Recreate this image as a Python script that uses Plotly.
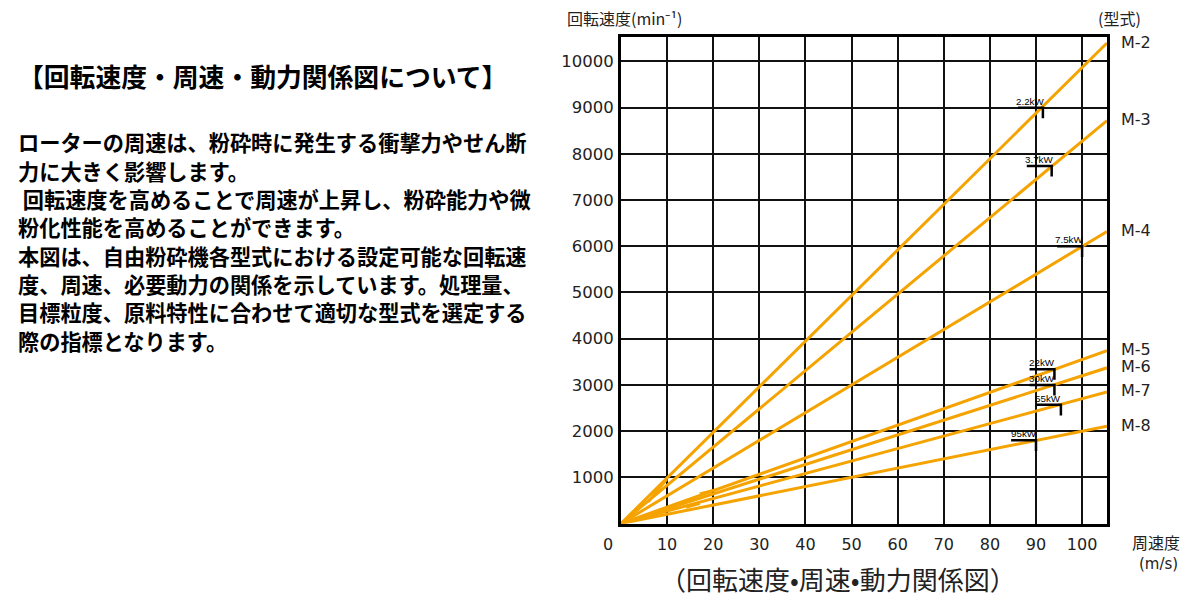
import plotly.graph_objects as go

# ---------------- data ----------------
models = ["M-2", "M-3", "M-4", "M-5", "M-6", "M-7", "M-8"]
line_speed = [0, 105.4]                      # m/s, start/end of every model line
line_end_rpm = [10400, 8720, 6320, 3740, 3370, 2850, 2105]   # rpm at right edge

power_labels = ["2.2kW", "3.7kW", "7.5kW", "22kW", "30kW", "55kW", "95kW"]
max_speed = [91.5, 93.4, 100, 94, 94, 95.4, 90]     # m/s
max_rpm = [9000, 7740, 6000, 3340, 3000, 2570, 1800]  # min-1

# short overlapping line pieces visible near the origin of the original drawing
stub_speed_from = [5.9, 17.1, 14.1]
stub_rpm_from = [472, 639, 351]
stub_speed_to = [9.9, 20.4, 17.1]
stub_rpm_to = [958, 726, 438]

x_ticks = [10, 20, 30, 40, 50, 60, 70, 80, 90, 100]
y_ticks = [1000, 2000, 3000, 4000, 5000, 6000, 7000, 8000, 9000, 10000]

title_text = "【回転速度・周速・動力関係図について】"
body_lines = [
    "ローターの周速は、粉砕時に発生する衝撃力やせん断",
    "力に大きく影響します。",
    "\u00a0回転速度を高めることで周速が上昇し、粉砕能力や微",
    "粉化性能を高めることができます。",
    "本図は、自由粉砕機各型式における設定可能な回転速",
    "度、周速、必要動力の関係を示しています。処理量、",
    "目標粒度、原料特性に合わせて適切な型式を選定する",
    "際の指標となります。",
]

# ---------------- style ----------------
W, H = 1200, 600
PX_L, PX_R, PX_T, PX_B = 621, 1107, 37, 523.5
ORANGE = "#F5A300"
JP = "Noto Sans CJK JP"
NUM = "DejaVu Sans"
TXT = "#222222"
BAR_LEN = 5.4      # m/s, length of the power bracket
TICK_LEN = 230     # rpm, drop of the power bracket


def px(x):
    return x / W


def py(y):
    return 1 - y / H


fig = go.Figure()

for name, end in zip(models, line_end_rpm):
    fig.add_trace(go.Scatter(
        x=line_speed, y=[0, end], mode="lines",
        line=dict(color=ORANGE, width=3), name=name,
        hoverinfo="skip", cliponaxis=True))

for x0, y0, x1, y1 in zip(stub_speed_from, stub_rpm_from, stub_speed_to, stub_rpm_to):
    fig.add_trace(go.Scatter(
        x=[x0, x1], y=[y0, y1], mode="lines",
        line=dict(color=ORANGE, width=3), hoverinfo="skip"))

for lab, v, n in zip(power_labels, max_speed, max_rpm):
    fig.add_trace(go.Scatter(
        x=[v - BAR_LEN, v, v], y=[n, n, n - TICK_LEN], mode="lines",
        line=dict(color="black", width=2.5), hoverinfo="skip", cliponaxis=False))
    fig.add_annotation(
        x=v - BAR_LEN / 2, y=n, xref="x", yref="y", text=lab, showarrow=False,
        yanchor="bottom", xanchor="center", yshift=-1,
        font=dict(family="Liberation Sans", size=9.8, color="black"))

annotations = []
for name, end in zip(models, line_end_rpm):
    annotations.append(dict(
        x=px(1119), y=end, xref="paper", yref="y", text=name, showarrow=False,
        xanchor="left", yanchor="middle", yshift=1,
        font=dict(family=NUM, size=16, color=TXT)))

annotations += [
    dict(x=px(565), y=py(18), text="回転速度(min⁻¹)", xanchor="left"),
    dict(x=px(1119), y=py(18), text="(型式)", xanchor="center"),
    dict(x=px(608), y=py(544), text="0", xanchor="center",
         font=dict(family=NUM, size=16, color=TXT)),
    dict(x=px(1156), y=py(542), text="周速度", xanchor="center"),
    dict(x=px(1158), y=py(564), text="(m/s)", xanchor="center",
         font=dict(family=NUM, size=15, color=TXT)),
    dict(x=px(838), y=py(578), text="（回転速度•周速•動力関係図）", xanchor="center",
         font=dict(family=JP, size=26, color=TXT)),
    dict(x=px(16), y=py(75), text="<b>" + title_text + "</b>", xanchor="left",
         font=dict(family=JP, size=25.8, color="black")),
]
for i, t in enumerate(body_lines):
    annotations.append(dict(x=px(16), y=py(141.7 + 28.33 * i), text="<b>" + t + "</b>",
                            xanchor="left", font=dict(family=JP, size=21.2, color="black")))

for a in annotations:
    a.setdefault("xref", "paper")
    a.setdefault("yref", "paper")
    a.setdefault("showarrow", False)
    a.setdefault("yanchor", "middle")
    a.setdefault("font", dict(family=JP, size=16, color=TXT))
    fig.add_annotation(**a)

fig.update_layout(
    width=W, height=H, autosize=False,
    margin=dict(l=0, r=0, t=0, b=0),
    paper_bgcolor="white", plot_bgcolor="white",
    showlegend=False,
    xaxis=dict(domain=[px(PX_L), px(PX_R)], range=[0, 105.4],
               tickvals=x_ticks, ticktext=[str(v) for v in x_ticks],
               showgrid=True, gridcolor="#111111", gridwidth=2,
               showline=True, mirror=True, linecolor="black", linewidth=3,
               zeroline=False, ticks="", ticklabelstandoff=4,
               tickfont=dict(family=NUM, size=16, color=TXT), fixedrange=True),
    yaxis=dict(domain=[py(PX_B), py(PX_T)], range=[0, 10530],
               tickvals=y_ticks, ticktext=[str(v) for v in y_ticks],
               showgrid=True, gridcolor="#111111", gridwidth=2,
               showline=True, mirror=True, linecolor="black", linewidth=3,
               zeroline=False, ticks="", ticklabelstandoff=1,
               tickfont=dict(family=NUM, size=16.5, color=TXT), fixedrange=True),
)

fig.write_html(
    "out.html",
    config={"displayModeBar": False},
    post_script="document.body.style.margin='0';document.body.style.padding='0';"
                "document.documentElement.style.overflow='hidden';",
)
